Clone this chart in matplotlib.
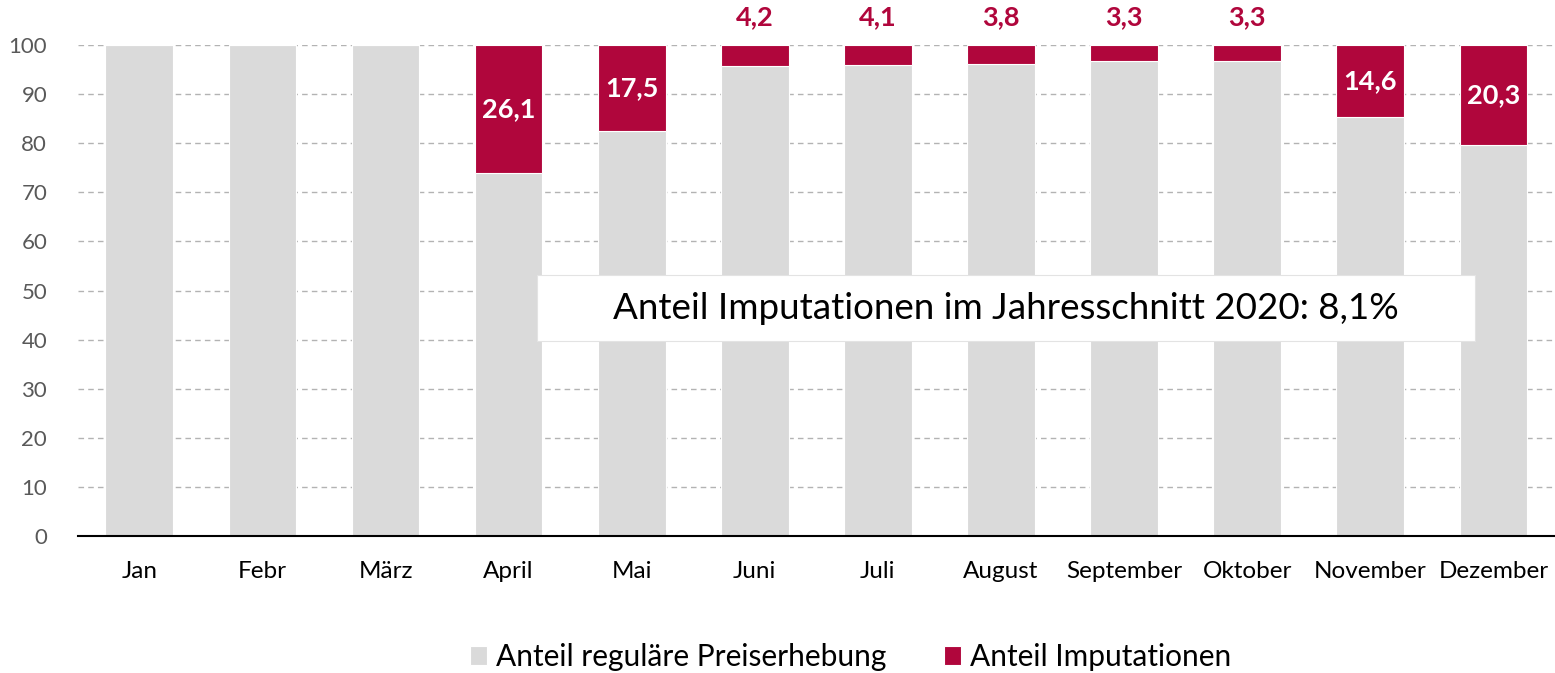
import matplotlib
matplotlib.use("Agg")
import matplotlib.pyplot as plt
from matplotlib.patches import Rectangle
import numpy as np

plt.rcParams['font.family'] = ['Lato', 'DejaVu Sans']

# data
months = ["Jan", "Febr", "März", "April", "Mai", "Juni", "Juli", "August",
          "September", "Oktober", "November", "Dezember"]
imputation = [0, 0, 0, 26.1, 17.5, 4.2, 4.1, 3.8, 3.3, 3.3, 14.6, 20.3]
regular = [100 - v for v in imputation]
label_inside = [False, False, False, True, True, False, False, False, False, False, True, True]
note = "Anteil Imputationen im Jahresschnitt 2020: 8,1%"

GRAY = "#dadada"
RED = "#b0063c"

fig = plt.figure(figsize=(15.55, 6.73), dpi=100)
ax = fig.add_axes([0.05, 0.2036, 0.95, 0.7295])

x = np.arange(len(months))
ax.bar(x, regular, width=0.55, color=GRAY, edgecolor="white", linewidth=0.8,
       label="Anteil reguläre Preiserhebung", zorder=2)
ax.bar(x, imputation, bottom=regular, width=0.55, color=RED, edgecolor="white",
       linewidth=0.8, label="Anteil Imputationen", zorder=2)

for xi, v, r, inside in zip(x, imputation, regular, label_inside):
    if v == 0:
        continue
    txt = f"{v:.1f}".replace(".", ",")
    if inside:
        ax.text(xi, r + v / 2, txt, ha="center", va="center", color="white",
                fontsize=19.5, fontweight="bold", zorder=4)
    else:
        ax.annotate(txt, (xi, 100), xytext=(0, 20), textcoords="offset points",
                    ha="center", va="center", color=RED, fontsize=19.5,
                    fontweight="bold", annotation_clip=False)

ax.set_xlim(-0.5, 11.5)
ax.set_ylim(0, 100)
ax.set_yticks(range(0, 101, 10))
ax.set_xticks(x)
ax.set_xticklabels(months, fontsize=17.5)
ax.tick_params(axis="y", labelsize=16, colors="#595959", length=0, pad=22)
ax.tick_params(axis="x", length=0, pad=18, colors="black")
ax.grid(axis="y", color="#b3b3b3", linestyle=(0, (4, 3)), linewidth=1, zorder=0)
ax.set_axisbelow(True)
for s in ["top", "right", "left"]:
    ax.spines[s].set_visible(False)
ax.spines["bottom"].set_linewidth(1.5)
ax.spines["bottom"].set_zorder(5)

# note box
ax.add_patch(Rectangle((0.311, 0.397), 0.635, 0.135, transform=ax.transAxes,
                       facecolor="white", edgecolor="#e3e3e3", linewidth=0.8,
                       zorder=5))
ax.text(0.6285, 0.464, note, transform=ax.transAxes, ha="center", va="center",
        fontsize=26.5, zorder=6)

fig.legend(loc="center", bbox_to_anchor=(0.547, 0.024), ncol=2, frameon=False,
           fontsize=21.5, handlelength=0.6, handleheight=0.6, handletextpad=0.3,
           columnspacing=1.9)

fig.savefig("out.png", dpi=100)
